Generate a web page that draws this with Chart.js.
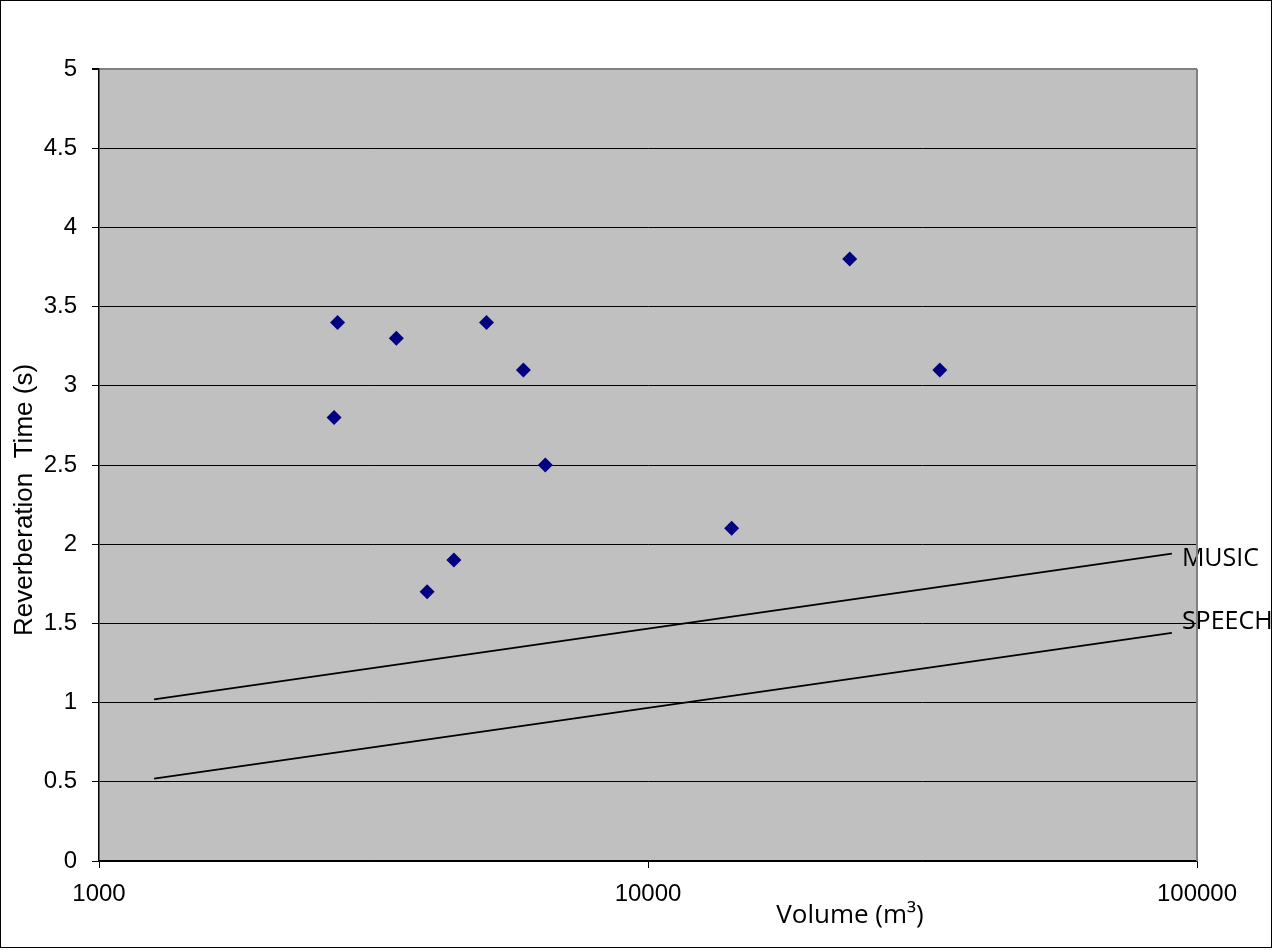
<!DOCTYPE html>
<html>
<head>
<meta charset="utf-8">
<script src="https://cdn.jsdelivr.net/npm/chart.js@4"></script>
<style>
  html, body { margin: 0; padding: 0; background: #fff; }
  canvas { display: block; }
</style>
</head>
<body>
<canvas id="rt-chart" width="1274" height="950"></canvas>
<script>
// halls: volume (m3) vs reverberation time (s)
const volumes = [2680, 2720, 3480, 3960, 4430, 5080, 5930, 6500, 14200, 23300, 34000];
const times = [2.8, 3.4, 3.3, 1.7, 1.9, 3.4, 3.1, 2.5, 2.1, 3.8, 3.1];

// recommended curves
const musicX = [1260, 90000];
const musicY = [1.02, 1.94];
const speechX = [1260, 90000];
const speechY = [0.52, 1.44];

const xTicks = [1000, 10000, 100000];
const yTicks = [0, 0.5, 1, 1.5, 2, 2.5, 3, 3.5, 4, 4.5, 5];

const xTitle = 'Volume (m³)';
const yTitle = 'Reverberation  Time (s)';

function toPoints(xs, ys) {
	return xs.map((x, i) => ({ x: x, y: ys[i] }));
}

const plotBackground = {
	id: 'plotBackground',
	beforeDraw(chart) {
		const { ctx, chartArea: a } = chart;
		ctx.save();
		ctx.fillStyle = '#fff';
		ctx.fillRect(0, 0, chart.width, chart.height);
		ctx.fillStyle = '#c0c0c0';
		ctx.fillRect(a.left, a.top, a.right - a.left, a.bottom - a.top);
		ctx.restore();
	},
	afterDraw(chart) {
		const { ctx, chartArea: a } = chart;
		ctx.save();
		ctx.strokeStyle = '#808080';
		ctx.lineWidth = 2;
		ctx.beginPath();
		ctx.moveTo(a.right, a.top);
		ctx.lineTo(a.right, a.bottom);
		ctx.stroke();

		// axis titles (offset from the plot centre, as in the original)
		ctx.fillStyle = '#000';
		ctx.textAlign = 'center';
		ctx.textBaseline = 'alphabetic';
		ctx.font = '26px "Open Sans"';
		ctx.fillText(xTitle, 850, 923);
		ctx.save();
		ctx.translate(32, 500);
		ctx.rotate(-Math.PI / 2);
		ctx.font = '26px "Liberation Sans", Arial';
		ctx.fillText(yTitle, 0, 0);
		ctx.restore();

		// outer frame
		ctx.strokeStyle = '#000';
		ctx.lineWidth = 1;
		ctx.strokeRect(0.5, 0.5, 1271, 947);
		ctx.restore();
	}
};

// names written at the end of each curve
const curveLabels = {
	id: 'curveLabels',
	afterDatasetsDraw(chart) {
		const { ctx } = chart;
		ctx.save();
		ctx.font = '25px "Open Sans"';
		ctx.fillStyle = '#000';
		ctx.textBaseline = 'middle';
		chart.data.datasets.forEach((ds, i) => {
			if (!ds.endLabel) return;
			const pts = chart.getDatasetMeta(i).data;
			const last = pts[pts.length - 1];
			ctx.fillText(ds.endLabel, last.x + 10, last.y + ds.labelShift);
		});
		ctx.restore();
	}
};

new Chart(document.getElementById('rt-chart'), {
	type: 'scatter',
	data: {
		datasets: [{
			data: toPoints(volumes, times),
			pointStyle: 'rectRot',
			pointRadius: 7.5,
			pointHoverRadius: 7.5,
			backgroundColor: '#000080',
			borderColor: '#000080',
			borderWidth: 0
		}, {
			data: toPoints(musicX, musicY),
			showLine: true,
			pointRadius: 0,
			borderColor: '#000',
			borderWidth: 1.8,
			endLabel: 'MUSIC',
			labelShift: 5
		}, {
			data: toPoints(speechX, speechY),
			showLine: true,
			pointRadius: 0,
			borderColor: '#000',
			borderWidth: 1.8,
			endLabel: 'SPEECH',
			labelShift: -11
		}]
	},
	options: {
		responsive: false,
		animation: false,
		devicePixelRatio: 1,
		layout: { padding: { top: 69, right: 77, left: 0, bottom: 0 } },
		plugins: {
			legend: { display: false },
			tooltip: { enabled: false }
		},
		scales: {
			x: {
				type: 'logarithmic',
				min: 1000,
				max: 100000,
				afterBuildTicks: (scale) => { scale.ticks = xTicks.map(v => ({ value: v })); },
				afterFit: (scale) => { scale.height = 89; },
				ticks: {
					callback: (v) => String(v),
					color: '#000',
					font: { family: '"Liberation Sans", Arial', size: 24 },
					padding: 12,
					maxRotation: 0,
					autoSkip: false
				},
				grid: { drawOnChartArea: false, drawTicks: true, tickLength: 7, color: '#000' },
				border: { color: '#000', width: 1.5 }
			},
			y: {
				min: 0,
				max: 5,
				afterBuildTicks: (scale) => { scale.ticks = yTicks.map(v => ({ value: v })); },
				afterFit: (scale) => { scale.width = 99; },
				ticks: {
					callback: (v) => String(v),
					color: '#000',
					font: { family: '"Liberation Sans", Arial', size: 24 },
					padding: 15
				},
				grid: {
					color: (c) => (c.tick && c.tick.value === 5 ? '#808080' : '#000'),
					lineWidth: (c) => (c.tick && c.tick.value === 5 ? 2 : 1),
					tickColor: '#000',
					tickLength: 7
				},
				border: { color: '#000', width: 1.5 }
			}
		}
	},
	plugins: [plotBackground, curveLabels]
});
</script>
</body>
</html>
